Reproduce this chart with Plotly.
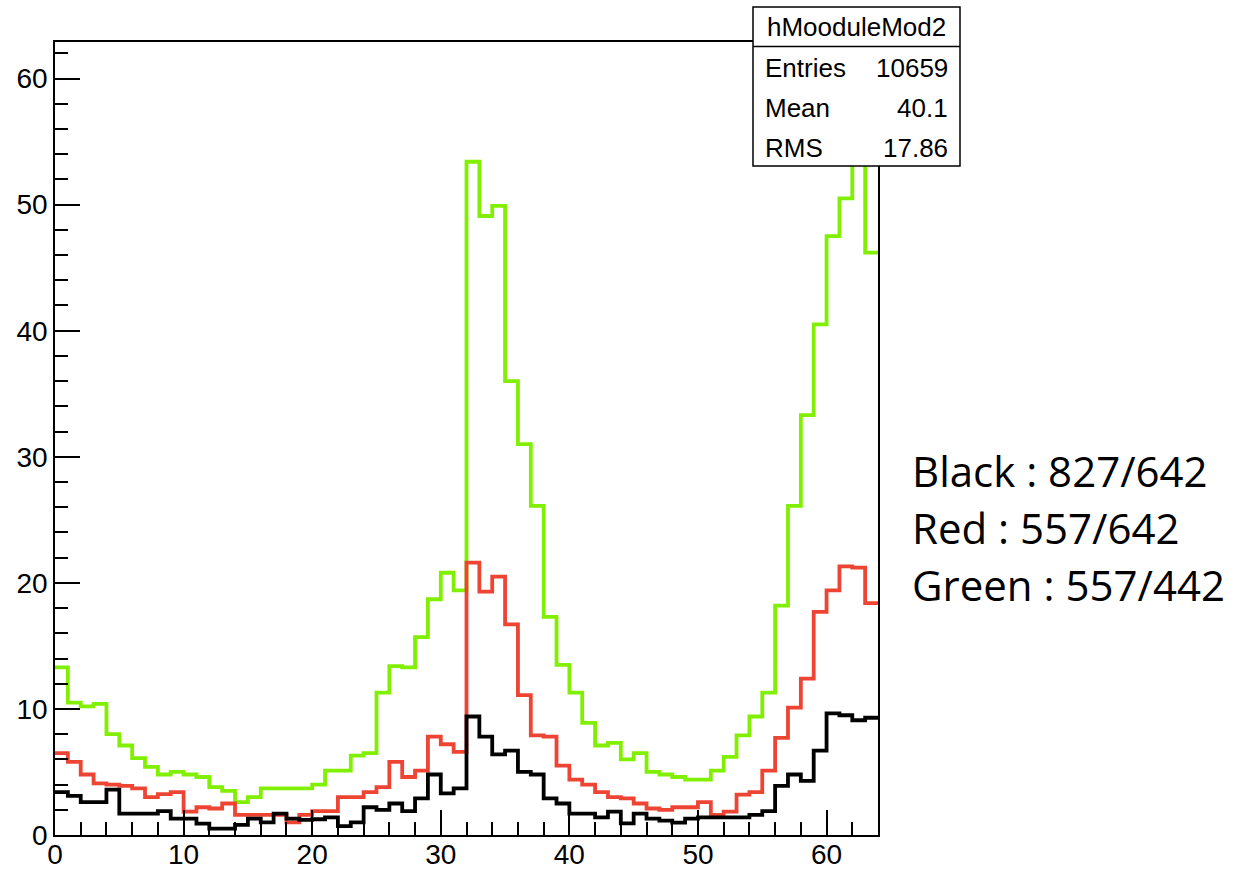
import numpy as np
import plotly.graph_objects as go

# ---------------- data (64 bins, 0..64) ----------------
green = [13.3, 10.5, 10.2, 10.4, 8.0, 7.1, 6.1, 5.4, 4.8, 5.0,
         4.8, 4.6, 3.8, 3.5, 2.6, 3.0, 3.7, 3.7, 3.7, 3.7,
         4.0, 5.1, 5.1, 6.3, 6.5, 11.3, 13.4, 13.3, 15.7, 18.7,
         20.8, 19.4, 53.4, 49.1, 49.9, 36.0, 31.0, 26.1, 17.3, 13.5,
         11.3, 8.9, 7.1, 7.3, 6.0, 6.5, 5.0, 4.8, 4.6, 4.4,
         4.4, 5.1, 6.2, 7.9, 9.4, 11.3, 18.2, 26.1, 33.3, 40.5,
         47.5, 50.5, 59.9, 46.2]
red = [6.5, 5.8, 4.8, 4.1, 4.0, 3.9, 3.7, 3.0, 3.25, 3.4,
       1.85, 2.2, 2.1, 2.5, 1.6, 1.6, 1.6, 1.6, 1.0, 1.6,
       1.9, 1.9, 3.0, 3.0, 3.4, 3.8, 5.8, 4.6, 5.1, 7.8,
       7.2, 6.6, 21.6, 19.3, 20.5, 16.7, 11.1, 7.9, 7.8, 5.5,
       4.4, 4.0, 3.4, 3.0, 2.9, 2.5, 2.1, 2.0, 2.2, 2.2,
       2.6, 1.6, 1.85, 3.2, 3.4, 5.1, 7.7, 10.1, 12.4, 17.7,
       19.4, 21.3, 21.2, 18.4]
black = [3.4, 3.1, 2.6, 2.6, 3.6, 1.7, 1.7, 1.7, 1.9, 1.3,
         1.3, 0.9, 0.5, 0.5, 0.8, 1.3, 1.0, 1.7, 1.3, 1.2,
         1.25, 1.4, 0.7, 1.0, 2.2, 2.0, 2.5, 1.9, 2.9, 4.8,
         3.3, 3.7, 9.4, 7.8, 6.4, 6.7, 5.0, 4.8, 2.9, 2.5,
         1.7, 1.7, 1.4, 1.85, 0.93, 1.7, 1.3, 1.14, 0.98, 1.3,
         1.4, 1.4, 1.4, 1.4, 1.6, 1.9, 3.9, 4.8, 4.3, 6.7,
         9.65, 9.5, 9.1, 9.3]

stats_title = "hMooduleMod2"
stats_labels = ["Entries", "Mean", "RMS"]
stats_values = ["10659", "40.1", "17.86"]
notes = ["Black : 827/642", "Red : 557/642", "Green : 557/442"]

x_tick_vals = [0, 10, 20, 30, 40, 50, 60]
y_tick_vals = [0, 10, 20, 30, 40, 50, 60]

# ---------------- figure ----------------
W, H = 1242, 872
L, R, T, B = 55, 878, 42, 835
pw, ph = R - L, B - T

def px(x):
    return (x - L) / pw

def py(y):
    return (B - y) / ph

edges = np.arange(len(green) + 1)

def step(vals):
    return list(vals) + [vals[-1]]

fig = go.Figure()
for vals, col in [(green, "#80f000"), (red, "#ee4433"), (black, "#000000")]:
    fig.add_trace(go.Scatter(x=edges, y=step(vals), mode="lines",
                             line=dict(color=col, width=3.8, shape="hv"),
                             hoverinfo="skip", showlegend=False))

axis_font = dict(family="Liberation Sans, Arial, sans-serif", size=28, color="#000")
fig.update_layout(
    width=W, height=H,
    margin=dict(l=L, r=W - R, t=T, b=H - B, pad=0, autoexpand=False),
    paper_bgcolor="white", plot_bgcolor="white",
    xaxis=dict(range=[0, 64], showgrid=False, zeroline=False, automargin=False,
               showline=True, linecolor="#000", linewidth=1.5, mirror=True,
               ticks="inside", ticklen=25, tickwidth=1.5, tickcolor="#000",
               tickvals=x_tick_vals, tickfont=axis_font, ticklabelstandoff=-6,
               minor=dict(dtick=2, ticks="inside", ticklen=13, tickwidth=1.5,
                          tickcolor="#000", showgrid=False)),
    yaxis=dict(range=[0, 62.9], showgrid=False, zeroline=False, automargin=False,
               showline=True, linecolor="#000", linewidth=1.5, mirror=True,
               ticks="inside", ticklen=25, tickwidth=1.5, tickcolor="#000",
               tickvals=y_tick_vals, tickfont=axis_font,
               minor=dict(dtick=2, ticks="inside", ticklen=13, tickwidth=1.5,
                          tickcolor="#000", showgrid=False)),
)

# stats box
bx0, bx1, by0, by1, bmid = 753, 960, 7, 166, 46.5
fig.add_shape(type="rect", xref="paper", yref="paper",
              x0=px(bx0), x1=px(bx1), y0=py(by1), y1=py(by0),
              line=dict(color="#000", width=1.5), fillcolor="white", layer="above")
fig.add_shape(type="line", xref="paper", yref="paper",
              x0=px(bx0), x1=px(bx1), y0=py(bmid), y1=py(bmid),
              line=dict(color="#000", width=1.5), layer="above")
stat_font = dict(family="Liberation Sans, Arial, sans-serif", size=26, color="#000")
fig.add_annotation(xref="paper", yref="paper", x=px((bx0 + bx1) / 2), y=py(27),
                   text=stats_title, showarrow=False, font=stat_font,
                   xanchor="center", yanchor="middle")
for i, (lab, val) in enumerate(zip(stats_labels, stats_values)):
    yy = 68 + 40 * i
    fig.add_annotation(xref="paper", yref="paper", x=px(763), y=py(yy), text=lab,
                       showarrow=False, font=stat_font, xanchor="left", yanchor="middle")
    fig.add_annotation(xref="paper", yref="paper", x=px(950), y=py(yy), text=val,
                       showarrow=False, font=stat_font, xanchor="right", yanchor="middle")

# side notes
note_font = dict(family="Open Sans, Noto Sans, sans-serif", size=42, color="#000")
for i, t in enumerate(notes):
    fig.add_annotation(xref="paper", yref="paper", x=px(910), y=py(470 + 57 * i),
                       text=t, showarrow=False, font=note_font,
                       xanchor="left", yanchor="middle")

# remove default page margin so the 1242x872 figure fills the window exactly
fig.write_html("out.html",
               config={"displayModeBar": False},
               post_script="document.body.style.margin='0';document.body.style.overflow='hidden';")
